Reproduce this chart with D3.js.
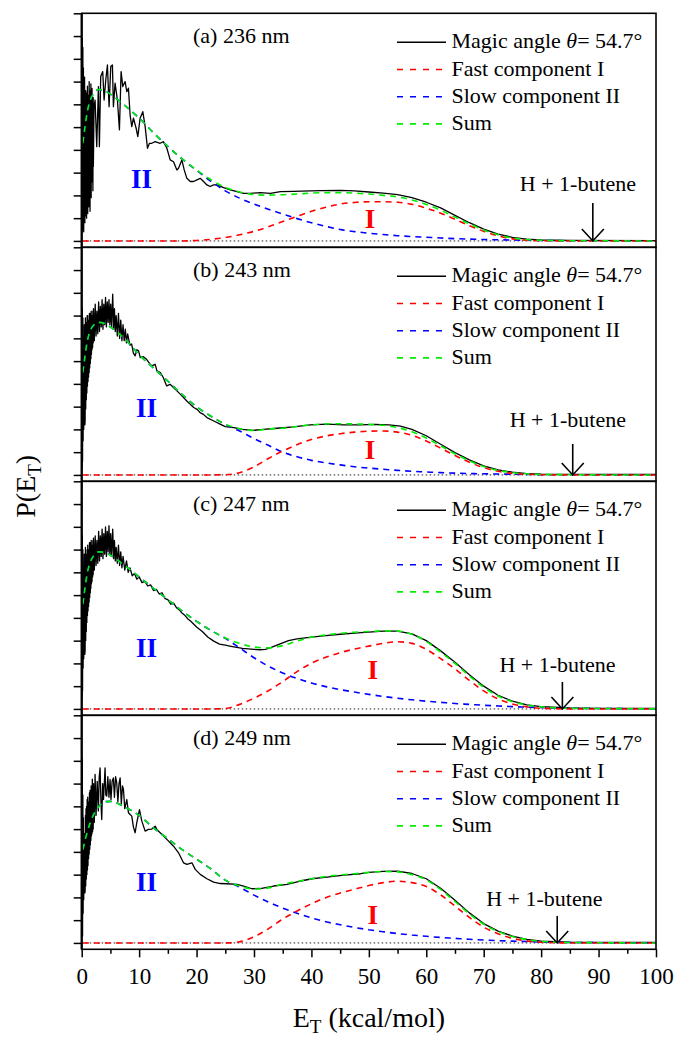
<!DOCTYPE html>
<html>
<head>
<meta charset="utf-8">
<script src="https://cdn.jsdelivr.net/npm/d3@7"></script>
<style>
  body { margin: 0; background: #fff; }
  svg { display: block; }
  text { font-family: "Liberation Serif", "Times New Roman", serif; fill: #000; }
</style>
</head>
<body>
<svg id="chart" width="678" height="1039"></svg>
<script>
// ---- data -------------------------------------------------------------
const panelTitles = ["(a) 236 nm", "(b) 243 nm", "(c) 247 nm", "(d) 249 nm"];
const legendLabels = ["Fast component I", "Slow component II", "Sum"];
const productLabel = "H + 1-butene";
// available energy for the H + 1-butene channel (kcal/mol)
const thresholdEnergy = [89.0, 85.5, 83.7, 82.8];

const xMajorTicks = [0, 10, 20, 30, 40, 50, 60, 70, 80, 90, 100];
const xMinorTicks = [5, 15, 25, 35, 45, 55, 65, 75, 85, 95];
const yTicks = [0, 1, 2, 3, 4, 5, 6, 7, 8, 9, 10];

// energy grid shared by the fitted components
const energyGrid = [0.2, 1, 2, 3, 4, 5, 7.5, 10, 12.5, 15, 17.5, 20, 22.5, 25, 27.5, 30, 32.5, 35, 37.5, 40,
  42.5, 45, 47.5, 50, 52.5, 55, 57.5, 60, 62.5, 65, 67.5, 70, 72.5, 75, 77.5, 80, 85, 90, 95, 100];

// (a) 236 nm
const slowA = [4.3, 5.7, 6.45, 6.65, 6.6, 6.45, 5.95, 5.4, 4.75, 4.15, 3.6, 3.1, 2.62, 2.2, 1.88, 1.62, 1.39, 1.18, 0.98, 0.8,
  0.64, 0.5, 0.41, 0.34, 0.28, 0.23, 0.19, 0.16, 0.13, 0.1, 0.08, 0.06, 0.05, 0.04, 0.03, 0.02, 0.01, 0.01, 0, 0];
const fastA = [0, 0, 0, 0, 0, 0, 0, 0, 0, 0, 0, 0.02, 0.07, 0.15, 0.27, 0.42, 0.62, 0.85, 1.08, 1.3,
  1.48, 1.62, 1.69, 1.72, 1.72, 1.7, 1.61, 1.44, 1.22, 0.95, 0.67, 0.42, 0.22, 0.09, 0.03, 0.01, 0, 0, 0, 0];
const sumA = [4.3, 5.7, 6.45, 6.65, 6.6, 6.45, 5.95, 5.4, 4.75, 4.15, 3.6, 3.12, 2.69, 2.35, 2.15, 2.04, 2.01, 2.03, 2.06, 2.1,
  2.12, 2.12, 2.1, 2.06, 2.0, 1.93, 1.8, 1.6, 1.35, 1.05, 0.75, 0.48, 0.27, 0.13, 0.06, 0.03, 0.01, 0.01, 0, 0];
const magicA = [[0.05,2.0],[0.1,8.9],[0.15,0.5],[0.2,8.5],[0.25,1.0],[0.3,7.6],[0.35,0.4],[0.4,6.8],[0.45,1.2],[0.5,7.2],
  [0.55,0.8],[0.6,6.0],[0.65,1.1],[0.7,6.6],[0.75,1.4],[0.8,6.5],[0.85,1.0],[0.9,5.9],[0.95,1.6],[1.0,6.8],[1.05,1.2],
  [1.1,6.2],[1.15,2.1],[1.2,6.4],[1.25,1.5],[1.3,7.0],[1.35,2.4],[1.4,5.7],[1.45,1.3],[1.5,6.6],[1.55,2.8],[1.6,6.9],
  [1.65,1.9],[1.7,6.1],[1.75,2.6],[1.8,6.7],[1.85,3.0],[1.9,5.8],[1.95,2.2],[2.0,6.3],[2.03,3.27],[2.15,5.9],[2.33,6.19],
  [2.62,4.14],[2.91,6.78],[3.08,4.14],[3.31,7.22],[3.66,7.44],
  [3.9,6.19],[4.19,7.07],[4.48,7.73],[4.77,5.9],[5.06,7.66],[5.35,7.73],[5.52,5.9],[5.81,6.93],[6.22,6.19],[6.57,4.88],
  [6.86,7.44],[7.15,6.78],[7.56,7.0],[7.85,6.56],[8.14,6.71],[8.43,5.53],[8.72,5.02],[9.01,5.39],[9.48,4.95],[9.77,4.58],
  [10.17,5.39],[10.64,5.68],[11.05,5.02],[11.45,4.07],[11.8,4.29],[12.2,4.29],[12.8,4.36],[13.66,4.29],[14.24,4.36],
  [14.83,4.07],[15.41,3.56],[15.99,3.48],[16.57,3.12],[16.86,3.19],[17.44,3.56],[17.85,3.12],[18.31,2.75],[18.9,2.61],
  [19.48,2.61],[20.06,2.68],[20.64,2.75],[21.22,2.61],[21.8,2.46],[22.38,2.39],[22.97,2.46],[23.55,2.46],[24.71,2.34],
  [25.87,2.24],[27.03,2.17],[28.2,2.09],[29.36,2.09],[31.1,2.12],[32.85,2.09],[34.6,2.17],[36.9,2.18],[39.8,2.2],[41.6,2.21],
  [45,2.22],[47.5,2.2],[50,2.15],[52.5,2.1],[55,2.03],[57.5,1.9],[60,1.7],[62.5,1.45],[65,1.12],[67.5,0.8],[70,0.52],
  [72.5,0.3],[75,0.16],[77.5,0.08],[80,0.04],[85,0.02],[100,0.01]];

// (b) 243 nm
const slowB = [4.5, 5.9, 6.55, 6.7, 6.65, 6.5, 5.98, 5.28, 4.7, 4.12, 3.53, 3.0, 2.58, 2.22, 1.93, 1.6, 1.3, 1.0, 0.8, 0.64,
  0.53, 0.44, 0.36, 0.3, 0.25, 0.2, 0.16, 0.13, 0.1, 0.08, 0.06, 0.05, 0.04, 0.03, 0.02, 0.01, 0.01, 0, 0, 0];
const fastB = [0, 0, 0, 0, 0, 0, 0, 0, 0, 0, 0, 0, 0, 0.01, 0.1, 0.35, 0.72, 1.05, 1.33, 1.56,
  1.71, 1.81, 1.88, 1.92, 1.93, 1.88, 1.74, 1.49, 1.18, 0.85, 0.56, 0.32, 0.16, 0.07, 0.03, 0.01, 0, 0, 0, 0];
const sumB = [4.5, 5.9, 6.55, 6.7, 6.65, 6.5, 5.98, 5.28, 4.7, 4.12, 3.53, 3.0, 2.58, 2.23, 2.03, 1.95, 2.02, 2.05, 2.13, 2.2,
  2.24, 2.25, 2.24, 2.22, 2.18, 2.08, 1.9, 1.62, 1.28, 0.93, 0.62, 0.37, 0.2, 0.1, 0.05, 0.02, 0.01, 0, 0, 0];
const magicB = [[0.05,0.3],[0.1,7.3],[0.15,0.6],[0.2,6.9],[0.25,1.5],[0.3,5.8],[0.35,2.0],[0.45,6.6],[0.55,2.2],
  [0.6,2.4],[0.65,6.9],[0.7,2.9],[0.75,6.7],[0.8,3.3],[0.85,6.5],[0.9,3.6],[0.95,7.0],[1.0,3.9],[1.05,7.0],[1.1,4.1],
  [1.15,6.7],[1.2,4.3],[1.25,6.8],[1.3,4.5],[1.35,7.1],[1.4,4.7],[1.45,7.1],[1.5,4.9],[1.55,6.9],[1.6,5.1],[1.65,7.2],
  [1.7,5.3],[1.75,7.0],[1.8,5.5],[1.85,7.0],[1.9,5.6],[1.95,7.2],[2.0,5.8],[2.05,7.3],[2.2,5.9],[2.35,7.5],[2.5,6.1],
  [2.65,7.2],[2.8,6.2],[2.95,7.6],[3.1,6.3],[3.25,7.4],
  [3.4,6.5],[3.55,7.7],[3.7,6.4],[3.85,7.5],[4.0,6.6],[4.15,7.8],[4.3,6.5],[4.45,7.6],[4.6,6.7],[4.75,7.7],[4.9,6.6],
  [5.05,7.5],[5.2,6.5],[5.4,7.94],[5.55,6.4],[5.7,7.3],[5.85,6.3],[6.0,7.0],[6.2,6.1],[6.4,7.1],[6.6,6.0],[6.8,6.8],
  [7.0,5.9],[7.2,6.6],[7.4,5.9],[7.6,6.4],[7.8,5.8],[8.0,6.2],[8.4,5.7],[8.7,5.75],[9.0,5.35],[9.3,5.23],[9.6,5.5],
  [9.9,5.45],[10.2,5.15],[10.7,5.2],[11.3,5.08],[11.8,4.9],[12.2,4.79],[12.8,4.86],[13.1,4.57],[13.7,4.5],[14.2,4.28],
  [14.8,3.91],[15.4,3.98],[16.3,3.76],[17.2,3.54],[18.3,3.25],[19.5,2.96],[20.1,2.88],[20.6,2.74],[21.2,2.66],[21.8,2.52],
  [23.0,2.37],[24.1,2.23],[25.0,2.12],[26.5,2.08],[27.9,2.0],[29.9,1.96],[31.7,2.0],[34.0,2.05],[36.9,2.11],[39.8,2.2],
  [42.7,2.23],[45.6,2.2],[48.5,2.2],[51,2.22],[53.5,2.2],[55.5,2.14],[57.5,2.0],[60,1.72],[62.5,1.35],[65,0.98],
  [67.5,0.66],[70,0.4],[72.5,0.22],[75,0.12],[77.5,0.06],[80,0.03],[85,0.02],[100,0.02]];

// (c) 247 nm
const slowC = [4.6, 6.0, 6.7, 6.9, 6.88, 6.75, 6.3, 5.8, 5.3, 4.8, 4.3, 3.85, 3.45, 3.1, 2.68, 2.25, 1.88, 1.58, 1.34, 1.14,
  0.98, 0.85, 0.74, 0.64, 0.55, 0.47, 0.4, 0.34, 0.29, 0.24, 0.2, 0.16, 0.13, 0.1, 0.08, 0.06, 0.03, 0.02, 0.01, 0];
const fastC = [0, 0, 0, 0, 0, 0, 0, 0, 0, 0, 0, 0, 0, 0.02, 0.2, 0.47, 0.8, 1.2, 1.64, 2.01,
  2.27, 2.47, 2.63, 2.76, 2.88, 2.95, 2.88, 2.62, 2.21, 1.76, 1.25, 0.79, 0.44, 0.22, 0.09, 0.03, 0, 0, 0, 0];
const sumC = [4.6, 6.0, 6.7, 6.9, 6.88, 6.75, 6.3, 5.8, 5.3, 4.8, 4.3, 3.85, 3.45, 3.12, 2.88, 2.72, 2.68, 2.78, 2.98, 3.15,
  3.25, 3.32, 3.37, 3.4, 3.43, 3.42, 3.28, 2.96, 2.5, 2.0, 1.45, 0.95, 0.57, 0.32, 0.17, 0.09, 0.03, 0.02, 0.01, 0];
const magicC = [[0.05,0.5],[0.1,7.6],[0.15,0.8],[0.2,7.0],[0.25,1.8],[0.3,6.2],[0.35,2.2],[0.45,6.8],[0.55,2.4],
  [0.6,2.6],[0.65,7.1],[0.7,3.0],[0.75,6.8],[0.8,3.4],[0.85,6.6],[0.9,3.8],[0.95,7.0],[1.0,4.1],[1.05,7.2],[1.1,4.3],
  [1.15,6.9],[1.2,4.5],[1.25,7.0],[1.3,4.7],[1.35,7.3],[1.4,4.9],[1.45,7.3],[1.5,5.1],[1.55,7.0],[1.6,5.3],[1.65,7.4],
  [1.7,5.5],[1.75,7.2],[1.8,5.6],[1.85,7.2],[1.9,5.8],[1.95,7.4],[2.0,5.9],[2.05,7.5],[2.2,6.1],[2.35,7.6],[2.5,6.3],
  [2.65,7.4],[2.8,6.4],[2.95,7.8],[3.1,6.5],[3.25,7.6],
  [3.4,6.7],[3.55,7.9],[3.7,6.6],[3.85,7.7],[4.0,6.8],[4.15,8.0],[4.3,6.7],[4.45,7.8],[4.6,6.9],[4.75,8.05],[4.9,6.8],
  [5.05,7.7],[5.2,6.7],[5.4,7.9],[5.55,6.6],[5.7,7.4],[5.85,6.5],[6.0,7.1],[6.2,6.4],[6.4,7.2],[6.6,6.3],[6.8,6.9],
  [7.0,6.2],[7.2,6.7],[7.5,6.1],[7.8,6.5],[8.1,6.0],[8.4,6.2],[8.8,5.85],[9.2,5.95],[9.6,5.7],[10.0,5.8],[10.5,5.55],
  [11,5.6],[11.5,5.4],[12,5.45],[12.5,5.2],[13,5.25],[13.5,5.05],[14,5.1],[14.5,4.85],[15,4.8],[15.5,4.6],[16,4.65],
  [16.5,4.45],[17,4.35],[17.5,4.2],[18,4.1],[18.5,3.95],[19,3.85],[20,3.6],[21,3.4],[22,3.15],[23,2.98],[24,2.85],
  [25,2.8],[26,2.75],[27,2.7],[28,2.66],[29,2.64],[30,2.62],[31,2.6],[32,2.62],[33,2.7],[34,2.8],[35,2.9],[36,3.0],
  [37.5,3.08],[40,3.15],[42.5,3.22],[45,3.28],[47.5,3.33],[50,3.37],[52.5,3.42],[55,3.42],[57.5,3.3],[60,3.0],
  [62.5,2.55],[65,2.05],[67.5,1.5],[70,1.0],[72.5,0.6],[75,0.34],[77.5,0.18],[80,0.1],[85,0.04],[90,0.02],[100,0.02]];

// (d) 249 nm
const slowD = [4.1, 4.9, 5.6, 6.0, 6.2, 6.22, 5.97, 5.6, 5.05, 4.58, 4.1, 3.68, 3.25, 2.76, 2.45, 2.1, 1.8, 1.53, 1.3, 1.1,
  0.93, 0.8, 0.68, 0.58, 0.49, 0.41, 0.35, 0.29, 0.24, 0.2, 0.16, 0.13, 0.1, 0.08, 0.06, 0.04, 0.02, 0.01, 0, 0];
const fastD = [0, 0, 0, 0, 0, 0, 0, 0, 0, 0, 0, 0, 0, 0, 0.05, 0.27, 0.62, 1.05, 1.4, 1.72,
  1.99, 2.19, 2.36, 2.52, 2.65, 2.71, 2.65, 2.48, 2.11, 1.62, 1.12, 0.69, 0.4, 0.2, 0.09, 0.03, 0, 0, 0, 0];
const sumD = [4.1, 4.9, 5.6, 6.0, 6.2, 6.22, 5.97, 5.6, 5.05, 4.58, 4.1, 3.68, 3.25, 2.76, 2.5, 2.37, 2.42, 2.58, 2.7, 2.82,
  2.92, 2.99, 3.04, 3.1, 3.14, 3.12, 3.0, 2.77, 2.35, 1.82, 1.28, 0.82, 0.5, 0.28, 0.15, 0.07, 0.02, 0.01, 0, 0];
const magicD = [[0.05,1.0],[0.1,8.06],[0.15,0.3],[0.2,6.5],[0.25,1.3],[0.3,5.5],[0.35,1.9],[0.45,4.8],[0.55,2.2],
  [0.6,2.3],[0.65,5.6],[0.7,2.5],[0.75,5.9],[0.8,2.8],[0.85,6.0],[0.9,3.0],[0.95,6.3],[1.0,3.2],[1.05,6.4],[1.1,3.4],
  [1.15,6.1],[1.2,3.7],[1.25,6.2],[1.3,3.9],[1.35,6.6],[1.4,4.1],[1.45,6.7],[1.5,4.3],[1.55,6.5],[1.6,4.5],[1.65,6.9],
  [1.7,4.7],[1.75,6.8],[1.8,4.8],[1.85,7.2],[1.9,4.9],[1.95,6.9],[2.0,5.0],[2.05,7.0],[2.2,5.3],[2.33,7.4],[2.5,5.6],
  [2.7,7.1],[2.9,5.8],[3.05,7.3],[3.2,7.69],[3.35,6.2],
  [3.49,5.42],[3.65,7.0],[3.8,6.3],[4.07,7.69],[4.2,6.5],[4.36,6.45],[4.55,7.3],[4.75,6.4],[4.94,7.18],[5.1,6.3],[5.3,7.1],
  [5.52,7.25],[5.7,6.4],[5.9,7.3],[6.1,7.04],[6.3,6.2],[6.5,7.0],[6.69,7.25],[6.9,6.1],[7.1,6.9],[7.27,6.74],[7.5,5.9],
  [7.85,6.3],[8.14,5.72],[8.43,5.64],[8.72,5.57],[9.0,5.1],[9.3,4.84],[9.59,5.28],[10.06,5.86],[10.47,5.35],[11.05,4.91],
  [11.63,4.99],[12.2,5.0],[12.79,5.13],[13.08,4.99],[13.66,4.84],[14.83,4.55],[15.99,4.25],[16.86,3.96],[17.73,3.52],
  [18.31,3.45],[19.19,3.52],[19.77,3.23],[20.64,3.01],[21.8,2.82],[22.97,2.67],[24.13,2.61],[25.29,2.6],[27.03,2.57],
  [28.2,2.5],[29.65,2.38],[31.1,2.39],[33.43,2.5],[35.76,2.57],[38.08,2.72],[40.41,2.83],[42.73,2.89],[45.64,2.98],
  [48.55,3.04],[50,3.1],[52.5,3.14],[55,3.15],[57.5,3.05],[60,2.82],[62.5,2.4],[65,1.87],[67.5,1.32],[70,0.85],
  [72.5,0.52],[75,0.3],[77.5,0.16],[80,0.08],[85,0.03],[100,0.02]];

// ---- layout -------------------------------------------------------------
const W = 678, H = 1039;
const plotLeft = 81.7, plotRight = 656, plotTop = 13.3, panelH = 234;
const yDomain = [-0.28, 10];
const serif = '"Liberation Serif", "Times New Roman", Times, serif';
const colors = { magic: "#000", fast: "#ff0000", slow: "#0000ff", sum: "#00ee00" };
const dash = "6,5";

// label placement inside each panel ([energy, value] coordinates)
const labelSpots = [
  { slow: [10.4, 2.33], fast: [50.2, 0.57], textRise: 50, textShift: -73, arrowLen: 38 },
  { slow: [11.3, 2.53], fast: [50.2, 0.69], textRise: 48, textShift: -63, arrowLen: 31 },
  { slow: [11.3, 2.3],  fast: [50.7, 1.3],  textRise: 37, textShift: -63, arrowLen: 27 },
  { slow: [11.3, 2.26], fast: [50.7, 0.81], textRise: 37, textShift: -71, arrowLen: 27 }
];

const panels = [
  { title: panelTitles[0], magic: magicA, fast: fastA, slow: slowA, sum: sumA },
  { title: panelTitles[1], magic: magicB, fast: fastB, slow: slowB, sum: sumB },
  { title: panelTitles[2], magic: magicC, fast: fastC, slow: slowC, sum: sumC },
  { title: panelTitles[3], magic: magicD, fast: fastD, slow: slowD, sum: sumD }
];

const svg = d3.select("#chart");
svg.append("rect").attr("width", W).attr("height", H).attr("fill", "#fff");

const x = d3.scaleLinear().domain([0, 100]).range([plotLeft, plotRight]);

panels.forEach((p, i) => {
  const top = plotTop + i * panelH;
  const bottom = top + panelH;
  const y = d3.scaleLinear().domain(yDomain).range([bottom, top]);
  const g = svg.append("g").attr("class", "panel");

  const clipId = "clip" + i;
  g.append("clipPath").attr("id", clipId).append("rect")
    .attr("x", plotLeft).attr("y", top).attr("width", plotRight - plotLeft).attr("height", panelH);
  const data = g.append("g").attr("clip-path", `url(#${clipId})`);

  // zero line
  data.append("line")
    .attr("x1", x(0)).attr("x2", x(100)).attr("y1", y(0)).attr("y2", y(0))
    .attr("stroke", "#222").attr("stroke-width", 1).attr("stroke-dasharray", "1.5,2.5");

  const rawLine = d3.line().x(d => x(d[0])).y(d => y(d[1]));
  const fitLine = d3.line().x((d, k) => x(energyGrid[k])).y(d => y(d)).curve(d3.curveMonotoneX);

  data.append("path").datum(p.magic).attr("d", rawLine)
    .attr("fill", "none").attr("stroke", colors.magic).attr("stroke-width", 1.3).attr("stroke-linejoin", "round");
  [["slow", colors.slow], ["fast", colors.fast], ["sum", colors.sum]].forEach(([key, c]) => {
    data.append("path").datum(p[key]).attr("d", fitLine)
      .attr("fill", "none").attr("stroke", c).attr("stroke-width", 1.6).attr("stroke-dasharray", dash);
  });

  // frame
  g.append("rect").attr("x", plotLeft).attr("y", top).attr("width", plotRight - plotLeft).attr("height", panelH)
    .attr("fill", "none").attr("stroke", "#000").attr("stroke-width", 1.6);
  g.append("line").attr("x1", plotLeft).attr("x2", plotLeft).attr("y1", top).attr("y2", bottom)
    .attr("stroke", "#000").attr("stroke-width", 2.2);

  // left ticks (no labels)
  const yAxis = g.append("g").attr("transform", `translate(${plotLeft},0)`)
    .call(d3.axisLeft(y).tickValues(yTicks).tickSize(8).tickFormat(""));
  yAxis.select(".domain").remove();
  yAxis.selectAll("line").attr("stroke-width", 1.5);

  // panel title
  g.append("text").attr("x", 193).attr("y", top + 30).attr("font-size", 22).text(p.title);

  // legend
  const legend = g.append("g");
  const rows = [
    { color: colors.magic, dashed: false },
    { color: colors.fast, dashed: true, label: legendLabels[0] },
    { color: colors.slow, dashed: true, label: legendLabels[1] },
    { color: colors.sum, dashed: true, label: legendLabels[2] }
  ];
  rows.forEach((r, k) => {
    const by = top + 35 + k * 27.2;
    legend.append("line").attr("x1", 397).attr("x2", 446).attr("y1", by - 6).attr("y2", by - 6)
      .attr("stroke", r.color).attr("stroke-width", r.dashed ? 1.6 : 1.4)
      .attr("stroke-dasharray", r.dashed ? "6,7" : null);
    const t = legend.append("text").attr("x", 451.5).attr("y", by).attr("font-size", 22);
    if (k === 0) {
      t.append("tspan").text("Magic angle ");
      t.append("tspan").attr("font-style", "italic").text("\u03B8");
      t.append("tspan").text("= 54.7\u00B0");
    } else {
      t.text(r.label);
    }
  });

  // component labels
  const spot = labelSpots[i];
  g.append("text").attr("x", x(spot.slow[0])).attr("y", y(spot.slow[1]))
    .attr("text-anchor", "middle").attr("font-size", 27).attr("font-weight", "bold")
    .style("fill", colors.slow).text("II");
  g.append("text").attr("x", x(spot.fast[0])).attr("y", y(spot.fast[1]))
    .attr("text-anchor", "middle").attr("font-size", 27).attr("font-weight", "bold")
    .style("fill", colors.fast).text("I");

  // threshold arrow
  const ax = x(thresholdEnergy[i]), ay = y(0);
  const arrow = g.append("g").attr("stroke", "#000").attr("stroke-width", 1.6).attr("fill", "none");
  arrow.append("line").attr("x1", ax).attr("x2", ax).attr("y1", ay - spot.arrowLen).attr("y2", ay);
  arrow.append("path").attr("d", `M${ax - 11},${ay - 12}L${ax},${ay}L${ax + 11},${ay - 12}`);
  g.append("text").attr("x", ax + spot.textShift).attr("y", ay - spot.textRise).attr("font-size", 22).text(productLabel);

  // bottom axis on the last panel
  if (i === panels.length - 1) {
    const xAxis = g.append("g").attr("transform", `translate(0,${bottom})`)
      .call(d3.axisBottom(x).tickValues(xMajorTicks).tickSize(8).tickPadding(10).tickFormat(d3.format("d")));
    xAxis.attr("font-family", null);
    xAxis.select(".domain").remove();
    xAxis.selectAll("line").attr("stroke-width", 1.5);
    xAxis.selectAll("text").attr("font-size", 23);
    const minor = g.append("g").attr("transform", `translate(0,${bottom})`)
      .call(d3.axisBottom(x).tickValues(xMinorTicks).tickSize(4.5).tickFormat(""));
    minor.select(".domain").remove();
    minor.selectAll("line").attr("stroke-width", 1.5);
  }
});

// axis titles
const xt = svg.append("text").attr("x", (plotLeft + plotRight) / 2).attr("y", 1027)
  .attr("text-anchor", "middle").attr("font-size", 28);
xt.append("tspan").text("E");
xt.append("tspan").attr("font-size", 19).attr("dy", 6).text("T");
xt.append("tspan").attr("dy", -6).text(" (kcal/mol)");

const yt = svg.append("text").attr("transform", `translate(35,${(plotTop + plotTop + 4 * panelH) / 2 + 5}) rotate(-90)`)
  .attr("text-anchor", "middle").attr("font-size", 28);
yt.append("tspan").text("P(E");
yt.append("tspan").attr("font-size", 19).attr("dy", 6).text("T");
yt.append("tspan").attr("dy", -6).text(")");

// serif face everywhere
svg.selectAll("text").attr("font-family", serif).style("font-family", serif);
</script>
</body>
</html>
